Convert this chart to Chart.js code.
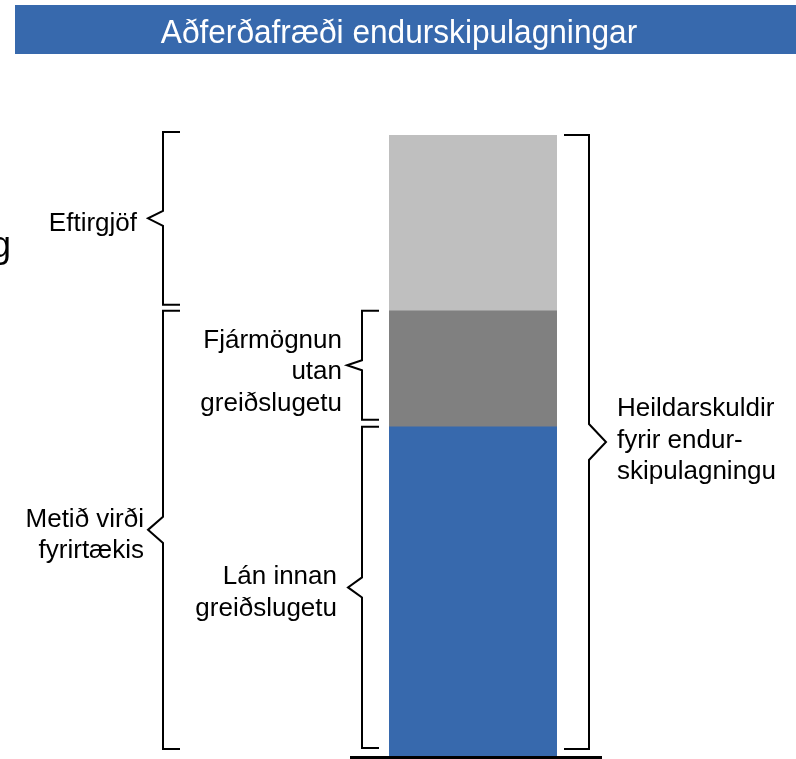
<!DOCTYPE html>
<html><head><meta charset="utf-8">
<script src="https://cdn.jsdelivr.net/npm/chart.js@4"></script>
<style>html,body{margin:0;padding:0;background:#fff;}canvas{display:block}</style>
</head><body>
<canvas id="c" width="796" height="759"></canvas>
<script>
const title = 'Aðferðafræði endurskipulagningar';
const categories = [''];
const seriesNames = ['Lán innan greiðslugetu', 'Fjármögnun utan greiðslugetu', 'Eftirgjöf'];
const lanInnan = [53.0];
const fjarmognunUtan = [18.7];
const eftirgjof = [28.3];
const seriesColors = ['#3769AD', '#808080', '#BFBFBF'];

const labelEftirgjof = ['Eftirgjöf'];
const labelMetid = ['Metið virði', 'fyrirtækis'];
const labelFjarmognun = ['Fjármögnun', 'utan', 'greiðslugetu'];
const labelLan = ['Lán innan', 'greiðslugetu'];
const labelHeild = ['Heildarskuldir', 'fyrir endur-', 'skipulagningu'];

const FONT = "'Liberation Sans', Arial, sans-serif";

function drawBrace(ctx, x, yTop, yBot, dir, tick, depth, half) {
  const mid = (yTop + yBot) / 2;
  ctx.beginPath();
  ctx.moveTo(x + dir * tick, yTop);
  ctx.lineTo(x, yTop);
  ctx.lineTo(x, mid - half);
  ctx.lineTo(x - dir * depth, mid);
  ctx.lineTo(x, mid + half);
  ctx.lineTo(x, yBot);
  ctx.lineTo(x + dir * tick, yBot);
  ctx.stroke();
  return mid;
}

function drawLines(ctx, lines, x, y0, align) {
  ctx.textAlign = align;
  lines.forEach((t, i) => ctx.fillText(t, x, y0 + i * 31.5));
}

const overlay = {
  id: 'overlay',
  afterDraw(chart) {
    const ctx = chart.ctx;
    const y = chart.scales.y;
    const area = chart.chartArea;
    const i = 0;
    const v1 = lanInnan[i];
    const v2 = v1 + fjarmognunUtan[i];
    const v3 = v2 + eftirgjof[i];
    const p0 = y.getPixelForValue(0), p1 = y.getPixelForValue(v1),
          p2 = y.getPixelForValue(v2), p3 = y.getPixelForValue(v3);
    ctx.save();
    // title bar
    ctx.fillStyle = '#3769AD';
    ctx.fillRect(15, 5, 781, 49);
    ctx.fillStyle = '#ffffff';
    ctx.font = '34px ' + FONT;
    ctx.textAlign = 'center';
    ctx.textBaseline = 'alphabetic';
    ctx.save();
    ctx.translate(399, 43);
    ctx.scale(0.93, 1);
    ctx.fillText(title, 0, 0);
    ctx.restore();

    // cut-off glyph at left
    ctx.fillStyle = '#000';
    ctx.textAlign = 'left';
    ctx.font = '36px ' + FONT;
    ctx.fillText('g', -9, 257);

    // baseline
    ctx.strokeStyle = '#000';
    ctx.lineWidth = 3;
    ctx.beginPath();
    ctx.moveTo(area.left - 39, 757.5);
    ctx.lineTo(area.right + 45, 757.5);
    ctx.stroke();

    // braces
    ctx.lineWidth = 2;
    ctx.lineJoin = 'miter';
    ctx.font = '26px ' + FONT;
    let m;
    m = drawBrace(ctx, 163, p3 - 3, p2 - 6, 1, 17, 15, 7.5);
    drawLines(ctx, labelEftirgjof, 137, m + 12.5, 'right');
    m = drawBrace(ctx, 163, p2, p0 - 7, 1, 17, 15, 13);
    drawLines(ctx, labelMetid, 144, m - 3, 'right');
    m = drawBrace(ctx, 362, p2, p1 - 7, 1, 17, 15, 5);
    drawLines(ctx, labelFjarmognun, 342, m - 17.5, 'right');
    m = drawBrace(ctx, 362, p1, p0 - 8, 1, 17, 14, 10);
    drawLines(ctx, labelLan, 337, m - 3, 'right');
    m = drawBrace(ctx, 589, p3, p0 - 7, -1, 25, 17, 18);
    drawLines(ctx, labelHeild, 617, m - 26, 'left');
    ctx.restore();
  }
};

new Chart(document.getElementById('c'), {
  type: 'bar',
  data: {
    labels: categories,
    datasets: [
      { label: seriesNames[0], data: lanInnan, backgroundColor: seriesColors[0] },
      { label: seriesNames[1], data: fjarmognunUtan, backgroundColor: seriesColors[1] },
      { label: seriesNames[2], data: eftirgjof, backgroundColor: seriesColors[2] }
    ]
  },
  options: {
    responsive: false,
    animation: false,
    devicePixelRatio: 1,
    layout: { padding: { left: 389, right: 239, top: 135, bottom: 3 } },
    datasets: { bar: { barPercentage: 1, categoryPercentage: 1, borderWidth: 0 } },
    plugins: { legend: { display: false }, tooltip: { enabled: false }, title: { display: false } },
    scales: {
      x: { display: false, stacked: true },
      y: { display: false, stacked: true, min: 0, max: 100 }
    }
  },
  plugins: [overlay]
});
</script>
</body></html>
